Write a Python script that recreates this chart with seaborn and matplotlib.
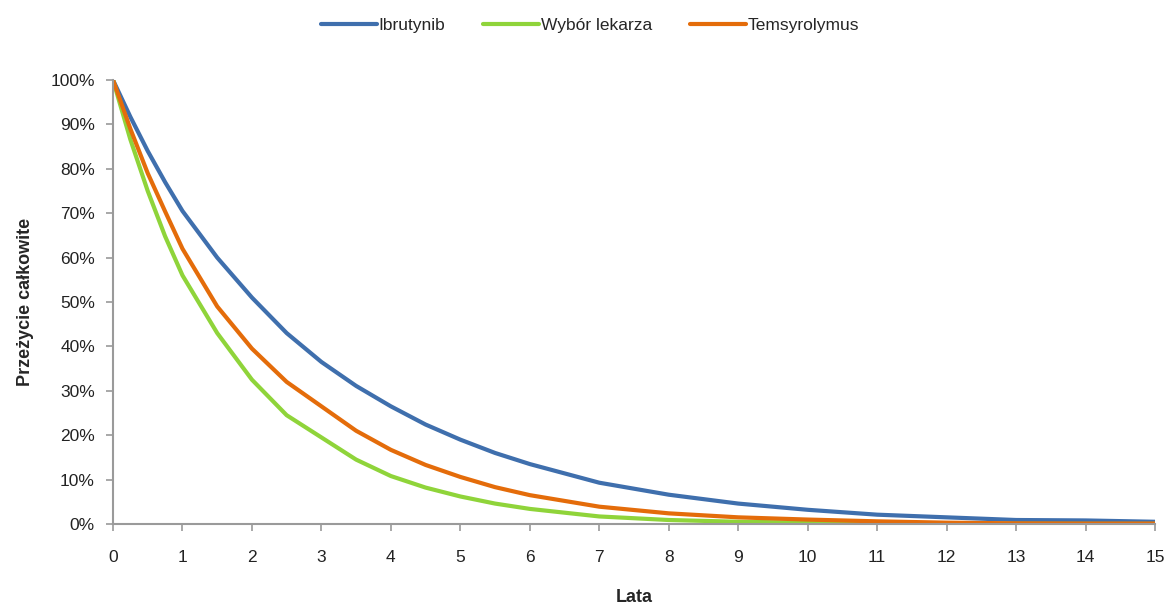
import matplotlib
matplotlib.use("Agg")
import matplotlib.pyplot as plt
import seaborn as sns
import pandas as pd
from matplotlib.ticker import FuncFormatter, MultipleLocator

years = [0, 0.25, 0.5, 0.75, 1, 1.5, 2, 2.5, 3, 3.5, 4, 4.5, 5, 5.5, 6, 7, 8, 9, 10, 11, 12, 13, 14, 15]
ibrutynib = [100, 91.7, 84, 77, 70.5, 60, 51, 43, 36.5, 31.1, 26.5, 22.4, 19, 16.0, 13.5, 9.3, 6.6, 4.6, 3.2, 2.1, 1.5, 0.9, 0.8, 0.5]
wybor = [100, 86.6, 75, 64.8, 56, 43, 32.5, 24.5, 19.5, 14.5, 10.8, 8.2, 6.2, 4.6, 3.4, 1.7, 0.9, 0.5, 0.3, 0.15, 0.08, 0.05, 0.03, 0.02]
tems = [100, 89, 79, 70.4, 62, 49, 39.5, 32, 26.5, 21.0, 16.7, 13.3, 10.6, 8.3, 6.5, 3.9, 2.4, 1.5, 1.0, 0.6, 0.3, 0.15, 0.1, 0.1]
series_names = ["Ibrutynib", "Wybór lekarza", "Temsyrolymus"]
colors = ["#3f6fad", "#8fd43a", "#e46c0a"]

rows = []
for name, vals in zip(series_names, [ibrutynib, wybor, tems]):
    for x, v in zip(years, vals):
        rows.append({"Lata": x, "OS": v / 100.0, "Seria": name})
df = pd.DataFrame(rows)

sns.set_theme(style="white")
plt.rcParams["font.family"] = ["Liberation Sans Narrow", "Liberation Sans", "DejaVu Sans"]

fig = plt.figure(figsize=(11.69, 6.09), dpi=100)
ax = fig.add_axes([113 / 1169, 1 - 524 / 609, (1155 - 113) / 1169, (524 - 80) / 609])

sns.lineplot(data=df, x="Lata", y="OS", hue="Seria", hue_order=series_names,
             palette=colors, linewidth=3.0, ax=ax, legend=True)

ax.set_xlim(0, 15)
ax.set_ylim(0, 1)
ax.xaxis.set_major_locator(MultipleLocator(1))
ax.yaxis.set_major_locator(MultipleLocator(0.1))
ax.yaxis.set_major_formatter(FuncFormatter(lambda v, p: f"{int(round(v * 100))}%"))

for s in ["top", "right"]:
    ax.spines[s].set_visible(False)
for s in ["left", "bottom"]:
    ax.spines[s].set_color("#9a9a9a")
    ax.spines[s].set_linewidth(1.5)
ax.tick_params(axis="both", which="major", direction="out", length=5, width=1.2,
               color="#9a9a9a", labelsize=12.5, labelcolor="#222222", pad=8)
ax.tick_params(axis="x", bottom=True, pad=14)
ax.tick_params(axis="y", left=True)

ax.set_xlabel("Lata", fontsize=13, fontweight="bold", labelpad=17)
ax.set_ylabel("Przeżycie całkowite", fontsize=13, fontweight="bold", labelpad=12)

handles, labels = ax.get_legend_handles_labels()
ax.legend_.remove()
fig.legend(handles, labels, loc="center", bbox_to_anchor=(590 / 1169, 1 - 25 / 609),
           ncol=3, frameon=False, fontsize=12.5, handlelength=3.2, handletextpad=0.1,
           columnspacing=2.2)

fig.savefig("out.png", dpi=100)
